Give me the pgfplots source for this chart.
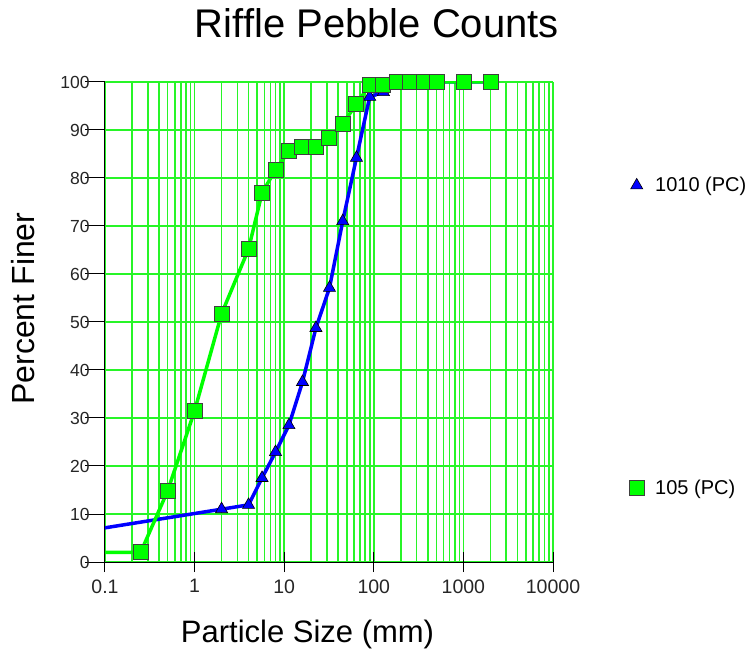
\documentclass[border=0pt]{standalone}
\usepackage{fontspec}
\setmainfont{Liberation Sans}
\usepackage{pgfplots}
\pgfplotsset{compat=1.18}
\definecolor{lgreen}{RGB}{0,255,0}
\definecolor{gridgreen}{RGB}{40,245,40}
\definecolor{mblue}{RGB}{0,0,255}
\begin{document}
\begin{tikzpicture}
\useasboundingbox (-105pt,-88pt) rectangle (644pt,562pt);
\begin{axis}[
  at={(0,0)}, anchor=south west,
  scale only axis, width=448pt, height=480pt,
  xmode=log, xmin=0.1, xmax=10000, ymin=0, ymax=100,
  axis x line*=bottom, axis y line*=left,
  axis line style={black, line width=1pt},
  xtick={0.1,1,10,100,1000,10000},
  xticklabels={0.1,1,10,100,1000,10000},
  minor xtick={},
  extra x ticks={0.2,0.3,0.4,0.5,0.6,0.7,0.8,0.9,2,3,4,5,6,7,8,9,20,30,40,50,60,70,80,90,200,300,400,500,600,700,800,900,2000,3000,4000,5000,6000,7000,8000,9000},
  extra x tick labels={},
  extra x tick style={grid=major, major tick length=0pt,
    major grid style={gridgreen, line width=1.6pt}},
  ytick={0,10,...,100},
  xmajorgrids, ymajorgrids,
  every axis grid/.style={gridgreen, line width=1.6pt},
  grid style={gridgreen, line width=1.6pt},
  major grid style={gridgreen, line width=1.6pt},
  tick style={black, line width=1pt},
  minor tick length=0pt, major tick length=20pt, tick align=center,
  every major y tick/.append style={xshift=-10pt},
  /pgf/number format/assume math mode=true,
  xticklabel style={font=\fontsize{19.5}{22}\selectfont, text=black!85, yshift=-4pt},
  yticklabel style={font=\fontsize{17.5}{20}\selectfont, text=black!85, xshift=-2pt},
  xlabel={Particle Size (mm)},
  ylabel={Percent Finer},
  xlabel style={font=\fontsize{31}{36}\selectfont, at={(axis description cs:0.452,-0.152)}, anchor=center},
  ylabel style={font=\fontsize{32}{36}\selectfont, at={(axis description cs:-0.183,0.528)}, anchor=center, rotate=0},
  title={Riffle Pebble Counts},
  title style={font=\fontsize{40}{44}\selectfont, at={(axis description cs:0.607,1.111)}, anchor=center},
  legend style={draw=none, fill=none, font=\fontsize{20}{22}\selectfont,
    at={(axis description cs:1.163,0.81)}, anchor=north west, row sep=283pt,
    /tikz/every odd column/.append style={column sep=9pt}},
  legend cell align=left,
]
% 1010 (PC)
\addplot[mblue, line width=3.5pt, forget plot] coordinates {
  (0.062,6.5) (2,11.0) (4,11.9) (5.66,17.5) (8,22.9) (11.3,28.5) (16,37.5)
  (22.6,48.75) (32,57.1) (45,71.0) (64,84.2) (90,96.9) (128,97.9) (180,100)
  (256,100) (362,100) (512,100) (1024,100) (2048,100)
};
\addplot[only marks, mark=triangle*, mark size=7pt,
  mark options={fill=mblue, draw=black, line width=0.6pt}] coordinates {
  (2,11.0) (4,11.9) (5.66,17.5) (8,22.9) (11.3,28.5) (16,37.5)
  (22.6,48.75) (32,57.1) (45,71.0) (64,84.2) (90,96.9) (128,97.9)
};
\addlegendentry{1010 (PC)}
% 105 (PC)
\addplot[lgreen, line width=3.5pt, forget plot] coordinates {
  (0.062,2.0) (0.25,2.0) (0.5,14.8) (1,31.5) (2,51.7) (4,65.2) (5.66,76.9)
  (8,81.7) (11.3,85.6) (16,86.5) (22.6,86.5) (32,88.3) (45,91.3) (64,95.4)
  (90,99.4) (128,99.4) (180,100) (256,100) (362,100) (512,100) (1024,100) (2048,100)
};
\addplot[only marks, mark=square*, mark size=7.5pt,
  mark options={fill=lgreen, draw=black!75, line width=1pt}] coordinates {
  (0.25,2.0) (0.5,14.8) (1,31.5) (2,51.7) (4,65.2) (5.66,76.9)
  (8,81.7) (11.3,85.6) (16,86.5) (22.6,86.5) (32,88.3) (45,91.3) (64,95.4)
  (90,99.4) (128,99.4) (180,100) (256,100) (362,100) (512,100) (1024,100) (2048,100)
};
\addlegendentry{105 (PC)}
\end{axis}
\end{tikzpicture}
\end{document}
